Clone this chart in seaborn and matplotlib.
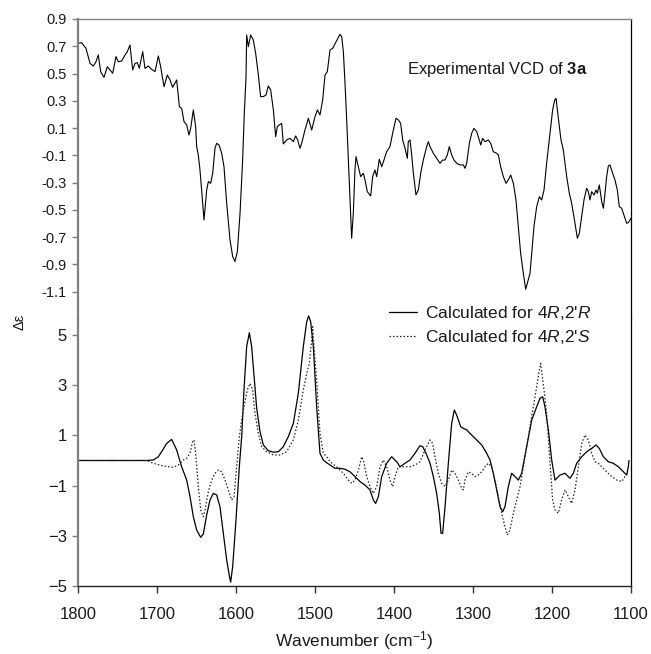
import numpy as np
import pandas as pd
import matplotlib
matplotlib.use("Agg")
import matplotlib.pyplot as plt
import seaborn as sns

# ---------------- data ----------------
exp_wn = [
    1800.0, 1795.4, 1789.9, 1784.8, 1780.6, 1777.2, 1774.3, 1771.3, 1767.1, 1762.9,
    1759.5, 1756.1, 1751.9, 1748.9, 1744.7, 1740.5, 1737.6, 1734.2, 1730.8, 1727.8,
    1724.9, 1722.4, 1718.1, 1715.2, 1711.0, 1706.8, 1702.5, 1698.3, 1695.4, 1691.1,
    1686.9, 1683.5, 1680.2, 1675.1, 1671.7, 1668.8, 1665.8, 1662.4, 1659.5, 1657.4,
    1654.0, 1651.1, 1649.8, 1647.7, 1645.6, 1643.5, 1640.5, 1637.1, 1635.0, 1632.1,
    1629.5, 1626.6, 1624.5, 1621.5, 1618.1, 1615.2, 1611.8, 1607.6, 1604.2, 1601.3,
    1598.3, 1594.9, 1591.6, 1589.5, 1587.3, 1586.5, 1584.4, 1581.4, 1578.1, 1575.1,
    1571.7, 1568.8, 1565.4, 1562.0, 1559.1, 1556.1, 1552.7, 1549.8, 1547.7, 1545.1,
    1542.2, 1540.1, 1535.9, 1531.6, 1527.4, 1524.5, 1521.9, 1519.0, 1516.9, 1512.7,
    1508.4, 1504.2, 1500.0, 1497.0, 1493.7, 1490.3, 1487.3, 1484.4, 1481.0, 1477.6,
    1471.7, 1468.4, 1466.2, 1464.1, 1462.0, 1459.9, 1457.8, 1455.7, 1453.6, 1451.5,
    1449.4, 1448.1, 1445.1, 1442.2, 1438.8, 1436.7, 1433.8, 1429.5, 1427.0, 1424.1,
    1421.9, 1418.6, 1415.6, 1412.7, 1409.3, 1405.1, 1401.7, 1397.5, 1394.5, 1391.6,
    1389.0, 1386.1, 1383.1, 1381.9, 1379.7, 1377.6, 1375.5, 1372.2, 1369.2, 1366.2,
    1362.9, 1358.6, 1356.5, 1354.4, 1350.2, 1346.0, 1341.8, 1338.4, 1335.4, 1332.5,
    1330.0, 1327.0, 1324.1, 1320.7, 1316.5, 1312.2, 1310.1, 1308.0, 1304.6, 1301.7,
    1298.7, 1295.4, 1292.0, 1290.3, 1287.8, 1284.8, 1280.6, 1277.6, 1274.3, 1270.0,
    1267.9, 1265.0, 1261.6, 1258.2, 1255.3, 1252.3, 1248.9, 1245.6, 1242.6, 1239.7,
    1236.3, 1233.3, 1230.0, 1227.8, 1225.7, 1222.8, 1219.4, 1216.0, 1213.1, 1210.1,
    1206.8, 1202.5, 1199.2, 1196.6, 1194.9, 1193.2, 1190.7, 1188.6, 1185.7, 1181.4,
    1178.1, 1175.1, 1170.9, 1167.9, 1165.4, 1162.4, 1159.5, 1156.1, 1154.0, 1151.9,
    1149.8, 1146.8, 1144.3, 1142.6, 1140.1, 1137.1, 1135.0, 1132.9, 1130.8, 1128.7,
    1126.6, 1123.2, 1120.3, 1117.3, 1114.8, 1111.8, 1109.7, 1107.6, 1105.5, 1103.4,
    1101.3, 1100.0,
]
exp_de = [
    0.722, 0.726, 0.685, 0.575, 0.555, 0.587, 0.636, 0.514, 0.472, 0.550,
    0.526, 0.502, 0.624, 0.587, 0.592, 0.636, 0.660, 0.709, 0.526, 0.575,
    0.580, 0.538, 0.660, 0.538, 0.555, 0.531, 0.514, 0.629, 0.550, 0.404,
    0.489, 0.453, 0.399, 0.453, 0.257, 0.245, 0.147, 0.123, 0.049, 0.098,
    0.233, 0.111, -0.036, -0.097, -0.207, -0.354, -0.574, -0.354, -0.292, -0.305,
    -0.231, -0.048, -0.012, -0.024, -0.085, -0.183, -0.451, -0.720, -0.842, -0.879,
    -0.806, -0.525, -0.134, 0.208, 0.477, 0.783, 0.697, 0.783, 0.746, 0.648,
    0.489, 0.331, 0.331, 0.343, 0.409, 0.379, 0.233, 0.037, 0.111, 0.123,
    0.135, -0.016, 0.013, 0.025, 0.001, 0.042, 0.013, -0.048, -0.012, 0.086,
    0.172, 0.086, 0.184, 0.233, 0.196, 0.306, 0.489, 0.514, 0.673, 0.685,
    0.751, 0.788, 0.770, 0.660, 0.428, 0.160, -0.134, -0.427, -0.708, -0.525,
    -0.207, -0.109, -0.183, -0.256, -0.231, -0.280, -0.366, -0.398, -0.256, -0.207,
    -0.256, -0.129, -0.183, -0.134, -0.073, -0.036, 0.062, 0.172, 0.160, 0.135,
    0.013, -0.048, -0.122, 0.001, 0.013, -0.097, -0.231, -0.390, -0.354, -0.231,
    -0.134, -0.036, 0.001, -0.036, -0.085, -0.122, -0.158, -0.134, -0.134, -0.097,
    -0.036, -0.097, -0.134, -0.158, -0.170, -0.170, -0.195, -0.158, -0.012, 0.062,
    0.098, 0.074, 0.013, -0.024, 0.025, 0.001, 0.013, -0.012, -0.073, -0.085,
    -0.097, -0.183, -0.256, -0.305, -0.280, -0.244, -0.305, -0.427, -0.622, -0.818,
    -0.964, -1.082, -1.013, -0.964, -0.818, -0.622, -0.476, -0.403, -0.427, -0.354,
    -0.158, 0.062, 0.233, 0.306, 0.318, 0.233, 0.111, 0.013, -0.060, -0.256,
    -0.378, -0.451, -0.598, -0.708, -0.671, -0.549, -0.427, -0.341, -0.366, -0.427,
    -0.366, -0.390, -0.354, -0.378, -0.317, -0.439, -0.488, -0.378, -0.256, -0.178,
    -0.170, -0.231, -0.280, -0.354, -0.476, -0.488, -0.525, -0.561, -0.598, -0.593,
    -0.574, -0.560,
]

calcR_wn = [
    1800.0, 1713.1, 1704.6, 1698.3, 1694.1, 1687.8, 1681.4, 1675.1, 1668.8, 1662.4,
    1658.2, 1654.0, 1649.8, 1644.7, 1641.4, 1637.1, 1632.9, 1628.7, 1624.5, 1620.3,
    1616.0, 1611.8, 1608.4, 1606.8, 1604.2, 1600.0, 1595.8, 1592.8, 1589.9, 1586.5,
    1583.1, 1580.2, 1576.8, 1573.8, 1569.6, 1565.4, 1559.1, 1552.7, 1546.4, 1540.1,
    1533.8, 1527.4, 1521.1, 1514.8, 1510.5, 1508.0, 1505.5, 1502.1, 1497.9, 1493.7,
    1489.5, 1485.2, 1481.0, 1474.7, 1468.4, 1462.0, 1455.7, 1449.4, 1443.0, 1436.7,
    1430.4, 1426.2, 1423.2, 1419.8, 1415.6, 1409.3, 1403.0, 1396.6, 1392.4, 1386.1,
    1379.7, 1373.4, 1367.1, 1363.7, 1359.5, 1354.4, 1350.2, 1346.0, 1342.6, 1340.5,
    1338.4, 1335.4, 1331.2, 1327.0, 1323.6, 1320.7, 1315.6, 1312.2, 1308.0, 1303.8,
    1299.6, 1295.4, 1289.0, 1282.7, 1278.5, 1274.3, 1270.0, 1265.8, 1262.4, 1259.5,
    1255.3, 1251.1, 1246.8, 1242.6, 1238.4, 1232.1, 1225.7, 1219.4, 1215.2, 1211.8,
    1208.9, 1204.6, 1200.4, 1196.2, 1189.9, 1183.5, 1177.2, 1173.0, 1168.8, 1162.4,
    1156.1, 1149.8, 1144.3, 1140.1, 1135.0, 1128.7, 1122.4, 1116.0, 1109.7, 1105.5,
    1103.4, 1102.5,
]
calcR_de = [
    0.00, 0.00, 0.02, 0.15, 0.35, 0.68, 0.84, 0.42, -0.25, -0.78,
    -1.44, -2.24, -2.77, -3.06, -2.93, -2.17, -1.57, -1.31, -1.37, -1.84,
    -2.90, -3.96, -4.60, -4.85, -4.23, -2.37, -0.25, 0.95, 2.81, 4.54,
    5.09, 4.54, 3.21, 2.08, 1.15, 0.62, 0.39, 0.33, 0.35, 0.55,
    0.95, 1.48, 2.68, 4.54, 5.53, 5.76, 5.53, 4.54, 2.14, 0.29,
    0.02, -0.09, -0.18, -0.31, -0.31, -0.35, -0.45, -0.64, -0.84, -0.98,
    -1.17, -1.57, -1.71, -1.44, -0.64, -0.11, 0.15, -0.05, -0.25, -0.11,
    0.02, 0.29, 0.59, 0.55, 0.29, -0.11, -0.64, -1.31, -2.10, -2.90,
    -2.90, -1.84, -0.11, 1.48, 2.01, 1.81, 1.35, 1.28, 1.22, 1.08,
    0.95, 0.82, 0.62, 0.29, 0.02, -0.51, -1.17, -1.84, -2.04, -1.84,
    -1.04, -0.51, -0.64, -0.78, -0.51, 0.55, 1.61, 2.14, 2.48, 2.54,
    2.14, 1.22, 0.02, -0.78, -0.58, -0.51, -0.71, -0.51, -0.11, 0.15,
    0.35, 0.48, 0.62, 0.48, 0.15, -0.05, -0.11, -0.25, -0.45, -0.58,
    -0.25, 0.00,
]

calcS_wn = [
    1800.0, 1713.1, 1704.6, 1692.0, 1679.3, 1673.0, 1666.7, 1662.4, 1658.2, 1654.9,
    1653.2, 1651.1, 1647.7, 1644.7, 1641.4, 1639.2, 1635.0, 1630.8, 1626.6, 1622.4,
    1618.1, 1613.9, 1609.7, 1605.5, 1602.5, 1599.2, 1595.8, 1592.8, 1589.9, 1585.7,
    1582.3, 1578.9, 1576.0, 1571.7, 1567.5, 1561.2, 1552.7, 1544.3, 1535.9, 1527.4,
    1521.1, 1514.8, 1510.5, 1507.2, 1504.2, 1502.9, 1501.3, 1497.9, 1493.7, 1489.5,
    1485.2, 1481.0, 1472.6, 1464.1, 1457.8, 1453.6, 1449.4, 1445.1, 1440.9, 1438.8,
    1434.6, 1430.4, 1426.2, 1421.9, 1417.7, 1413.5, 1409.3, 1405.1, 1401.7, 1398.7,
    1394.5, 1388.2, 1379.7, 1373.4, 1367.1, 1360.8, 1354.4, 1351.1, 1348.1, 1343.9,
    1339.7, 1335.4, 1331.2, 1327.0, 1322.8, 1318.6, 1314.3, 1312.2, 1310.1, 1305.9,
    1301.7, 1297.5, 1293.2, 1289.0, 1284.8, 1280.6, 1276.4, 1272.2, 1267.9, 1263.7,
    1259.5, 1256.5, 1253.2, 1248.9, 1244.7, 1240.5, 1236.3, 1232.1, 1227.8, 1223.6,
    1219.4, 1216.0, 1214.3, 1212.7, 1210.1, 1206.8, 1202.5, 1199.2, 1196.2, 1192.0,
    1187.8, 1183.5, 1179.3, 1175.1, 1170.9, 1166.7, 1162.4, 1158.2, 1154.0, 1149.8,
    1145.6, 1141.4, 1137.1, 1132.9, 1126.6, 1118.1, 1111.8, 1107.6, 1103.4,
]
calcS_de = [
    0.00, 0.00, -0.11, -0.22, -0.27, -0.18, 0.02, 0.09, 0.29, 0.75,
    0.82, 0.29, -1.04, -1.97, -2.24, -1.97, -1.24, -0.78, -0.51, -0.38,
    -0.45, -0.78, -1.17, -1.57, -1.44, -0.25, 0.95, 1.61, 2.14, 2.81,
    3.07, 2.81, 1.88, 1.08, 0.55, 0.35, 0.22, 0.22, 0.35, 0.82,
    1.61, 2.81, 3.47, 3.87, 4.80, 5.33, 4.54, 3.21, 1.08, 0.29,
    0.15, -0.05, -0.25, -0.51, -0.78, -0.91, -0.78, -0.38, 0.15, 0.02,
    -0.64, -1.04, -1.31, -1.04, -0.25, 0.02, -0.25, -0.78, -1.04, -0.64,
    -0.25, -0.25, -0.25, -0.18, -0.05, 0.42, 0.82, 0.68, 0.15, -0.51,
    -0.91, -1.04, -0.78, -0.38, -0.51, -0.78, -1.11, -1.17, -0.78, -0.45,
    -0.51, -0.64, -0.58, -0.45, -0.25, -0.11, -0.25, -0.78, -1.44, -2.10,
    -2.64, -2.97, -2.77, -2.10, -1.57, -1.04, -0.25, 0.55, 1.35, 2.14,
    2.94, 3.61, 3.87, 3.47, 2.81, 1.88, -0.11, -1.57, -1.97, -2.10,
    -1.57, -1.17, -1.44, -1.71, -1.17, -0.25, 0.68, 1.02, 0.82, 0.29,
    -0.05, -0.11, -0.25, -0.38, -0.58, -0.78, -0.84, -0.64, -0.45,
]

label_R = "Calculated for 4$\\it{R}$,2'$\\it{R}$"
label_S = "Calculated for 4$\\it{R}$,2'$\\it{S}$"
top_yticks = [0.9, 0.7, 0.5, 0.3, 0.1, -0.1, -0.3, -0.5, -0.7, -0.9, -1.1]
bot_yticks = [5, 3, 1, -1, -3, -5]
x_ticks = [1800, 1700, 1600, 1500, 1400, 1300, 1200, 1100]

exp_df = pd.DataFrame({"wn": exp_wn, "de": exp_de})
calc_df = pd.concat([
    pd.DataFrame({"wn": calcR_wn, "de": calcR_de, "conf": label_R}),
    pd.DataFrame({"wn": calcS_wn, "de": calcS_de, "conf": label_S}),
], ignore_index=True)

# ---------------- style ----------------
sns.set_style("white")
plt.rcParams["font.family"] = ["Liberation Sans", "DejaVu Sans"]
plt.rcParams["mathtext.fontset"] = "custom"
plt.rcParams["mathtext.rm"] = "Liberation Sans"
plt.rcParams["mathtext.it"] = "Liberation Sans:italic"
plt.rcParams["mathtext.bf"] = "Liberation Sans:bold"

W, H = 651, 654
fig = plt.figure(figsize=(W / 100, H / 100), dpi=100)
L, R = 78, 631
ax_top = fig.add_axes([L / W, 1 - 319 / H, (R - L) / W, 300 / H])
ax_bot = fig.add_axes([L / W, 1 - 586 / H, (R - L) / W, 286 / H])
for a in (ax_top, ax_bot):
    a.set_facecolor("none")
    a.set_xlim(1800, 1100)

gray = "#808080"
txt = "#1a1a1a"

# top panel: experimental
sns.lineplot(data=exp_df, x="wn", y="de", ax=ax_top, color="black", lw=0.8,
             sort=False, legend=False)
ax_top.set_ylim(-1.3, 0.9)
ax_top.set_yticks(top_yticks)
ax_top.set_yticklabels([f"{v:.1f}" for v in top_yticks])
ax_top.set_xticks([])
ax_top.set_xlabel("")
ax_top.set_ylabel("")
ax_top.spines["bottom"].set_visible(False)
ax_top.spines["left"].set_color(gray)
ax_top.spines["left"].set_linewidth(1.6)
ax_top.spines["top"].set_color(gray)
ax_top.spines["top"].set_linewidth(1.0)
ax_top.spines["right"].set_color("black")
ax_top.spines["right"].set_linewidth(0.9)
ax_top.tick_params(axis="y", direction="out", left=True, length=4, width=1,
                   color=gray, labelsize=10.5, pad=4, labelcolor=txt)
ax_top.text(0.7586, 0.83, "Experimental VCD of $\\mathbf{3a}$",
            transform=ax_top.transAxes, ha="center", va="center",
            fontsize=12, color=txt)

# bottom panel: calculated
sns.lineplot(data=calc_df[calc_df.conf == label_R], x="wn", y="de", ax=ax_bot,
             color="black", lw=0.9, sort=False, label=label_R)
sns.lineplot(data=calc_df[calc_df.conf == label_S], x="wn", y="de", ax=ax_bot,
             color="#222222", lw=0.9, linestyle=(0, (1.2, 1.6)), sort=False,
             label=label_S)
bot_top = -5 + 286 / 25.1
ax_bot.set_ylim(-5, bot_top)
ax_bot.set_yticks(bot_yticks)
ax_bot.set_xticks(x_ticks)
ax_bot.set_ylabel("")
ax_bot.spines["top"].set_visible(False)
ax_bot.spines["left"].set_color(gray)
ax_bot.spines["left"].set_linewidth(1.6)
ax_bot.spines["right"].set_color("black")
ax_bot.spines["right"].set_linewidth(0.9)
ax_bot.spines["right"].set_bounds(-5, -5 + 267 / 25.1)
ax_bot.spines["left"].set_bounds(-5, -5 + 267 / 25.1)
ax_bot.spines["bottom"].set_color("#222222")
ax_bot.spines["bottom"].set_linewidth(1.0)
ax_bot.tick_params(axis="y", direction="out", left=True, length=4, width=1,
                   color=gray, labelsize=12, pad=4, labelcolor=txt)
ax_bot.tick_params(axis="x", direction="out", bottom=True, length=5, width=1,
                   color="#333333", labelsize=12, pad=10, labelcolor=txt)
ax_bot.set_xlabel("Wavenumber (cm$^{-1}$)", fontsize=12.5, labelpad=5,
                  color=txt)

leg = ax_bot.legend(loc="upper left", bbox_to_anchor=(389 / W, 1 - 304 / H),
                    bbox_transform=fig.transFigure, frameon=False, fontsize=12.5,
                    handlelength=1.6, handletextpad=0.45, labelspacing=0.35,
                    borderpad=0, borderaxespad=0)
for t in leg.get_texts():
    t.set_color(txt)

fig.text(20 / W, 1 - 322 / H, "Δε", rotation=90, ha="center", va="center",
         fontsize=10.5, color=txt)

fig.savefig("out.png", dpi=100)
